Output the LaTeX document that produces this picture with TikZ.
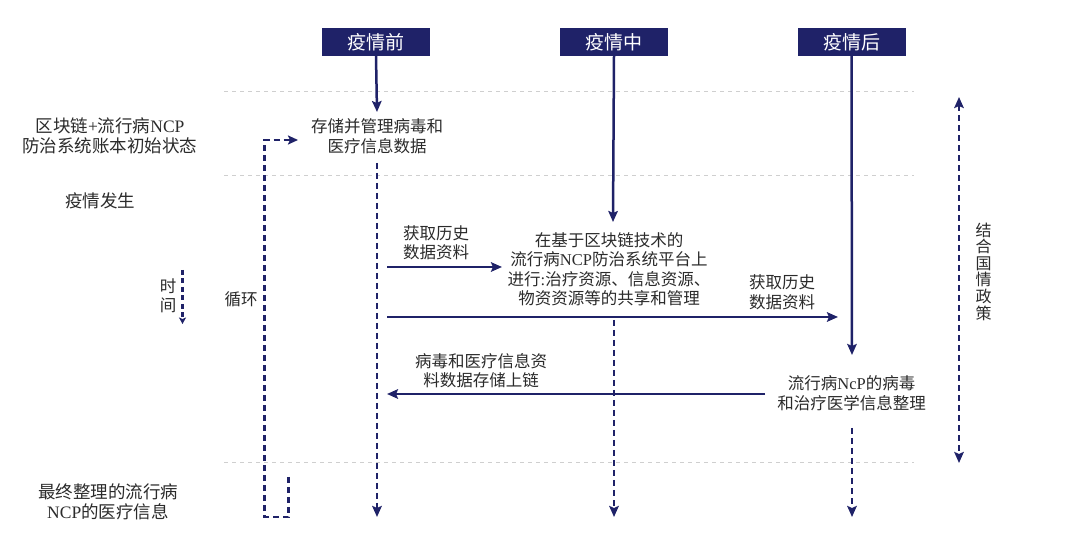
\documentclass[tikz,border=0pt]{standalone}
\usepackage{fontspec}
\setmainfont{Noto Sans CJK SC}
\newfontfamily\lat{Liberation Serif}
\usetikzlibrary{arrows.meta}
\definecolor{navy}{HTML}{1F2268}
\definecolor{txt}{HTML}{2B2B2B}
\definecolor{gridc}{HTML}{CFCFCF}
\newcommand\myvertfont{\fontsize{16}{16.6}\selectfont\lineskiplimit=-20pt\relax}
\tikzset{
  hdr/.style={fill=navy, text=white, minimum width=108pt, minimum height=28pt, inner sep=0pt,
    font=\fontsize{19}{20}\selectfont},
  lbl/.style={text=txt, align=center, inner sep=0pt, font=\fontsize{16.5}{19.5}\selectfont},
  side/.style={text=txt, align=center, inner sep=0pt, font=\fontsize{17.5}{20}\selectfont},
  vert/.style={text=txt, align=center, inner sep=0pt, font=\myvertfont},
  flow/.style={navy, line width=2.5pt, -{Stealth[length=11pt,width=9.5pt,inset=2pt]}},
  dflow/.style={navy, line width=2.3pt, dash pattern=on 6pt off 4pt, -{Stealth[length=11pt,width=9.5pt,inset=2pt]}},
  dloop/.style={navy, line width=2.2pt, dash pattern=on 6pt off 4pt, -{Stealth[length=10pt,width=9pt,inset=2pt]}},
  tflow/.style={navy, line width=2.2pt, dash pattern=on 5pt off 3.5pt, -{Stealth[length=6.5pt,width=7pt,inset=1.5pt]}},
  dboth/.style={navy, line width=2.2pt, dash pattern=on 6pt off 4pt, {Stealth[length=11pt,width=9.5pt,inset=2pt]}-{Stealth[length=11pt,width=9.5pt,inset=2pt]}},
  sepline/.style={gridc, line width=1pt, dash pattern=on 4pt off 4pt},
}
\begin{document}
\begin{tikzpicture}[x=1pt, y=-1pt]
\useasboundingbox[fill=white] (0,0) rectangle (1080,545);

% separator lines
\coordinate (s1a) at (224,92);  \coordinate (s1b) at (914,92);
\coordinate (s2a) at (224,176); \coordinate (s2b) at (914,176);
\coordinate (s3a) at (224,463); \coordinate (s3b) at (914,463);
\draw[sepline] (s1a) -- (s1b);
\draw[sepline] (s2a) -- (s2b);
\draw[sepline] (s3a) -- (s3b);

% headers
\node[hdr] (hb) at (376,42) {疫情前};
\node[hdr] (hm) at (614,42) {疫情中};
\node[hdr] (ha) at (851.5,42) {疫情后};

% left labels
\node[side] (l1) at (110,136) {区块链{\lat +}流行病{\lat NCP}\\防治系统账本初始状态};
\node[side] (l2) at (100,201) {疫情发生};
\node[side] (l3) at (108,501.5) {最终整理的流行病\\{\lat NCP}的医疗信息};
\node[lbl] (tm) at (168,296) {时\\间};
\node[lbl] (lp) at (241,299) {循环};

% content texts
\node[lbl] (t1) at (377,136) {存储并管理病毒和\\医疗信息数据};
\node[lbl] (t2) at (609,269) {在基于区块链技术的\\流行病{\lat NCP}防治系统平台上\\进行{\lat :}治疗资源、信息资源、\\物资资源等的共享和管理};
\node[lbl] (t3) at (851.6,393) {流行病{\lat NcP}的病毒\\和治疗医学信息整理};
\node[lbl] (a1) at (436,243) {获取历史\\数据资料};
\node[lbl] (a2) at (782,292.5) {获取历史\\数据资料};
\node[lbl] (a3) at (481,370.5) {病毒和医疗信息资\\料数据存储上链};
\node[vert] (pol) at (983.5,271.5) {结\\合\\国\\情\\政\\策};

% coordinates of connector ends
\coordinate (t1top) at (377,112);
\coordinate (t2top) at (613,222);
\coordinate (t3top) at (852,355);
\coordinate (d1a) at (377,163); \coordinate (d1b) at (377,517);
\coordinate (d2a) at (614,320); \coordinate (d2b) at (614,517);
\coordinate (d3a) at (852,428); \coordinate (d3b) at (852,517);
\coordinate (ta) at (182.5,270); \coordinate (tb) at (182.5,324);
\coordinate (r1a) at (387,267); \coordinate (r1b) at (502,267);
\coordinate (r2a) at (387,317); \coordinate (r2b) at (838,317);
\coordinate (r3a) at (765,394); \coordinate (r3b) at (387,394);
\coordinate (pa) at (959,97); \coordinate (pb) at (959,463);
\coordinate (lpa) at (288.5,477); \coordinate (lpb) at (264.5,517);
\coordinate (lpc) at (298,140);

% connectors
\draw[flow] (hb.south) -- (t1top);
\draw[flow] (hm.south) -- (t2top);
\draw[flow] (ha.south) -- (t3top);
\draw[dflow] (d1a) -- (d1b);
\draw[dflow] (d2a) -- (d2b);
\draw[dflow] (d3a) -- (d3b);
\draw[tflow] (ta) -- (tb);
\draw[flow] (r1a) -- (r1b);
\draw[flow] (r2a) -- (r2b);
\draw[flow] (r3a) -- (r3b);
\draw[dboth] (pa) -- (pb);
\draw[dloop] (lpa) |- (lpb) |- (lpc);
\end{tikzpicture}
\end{document}
